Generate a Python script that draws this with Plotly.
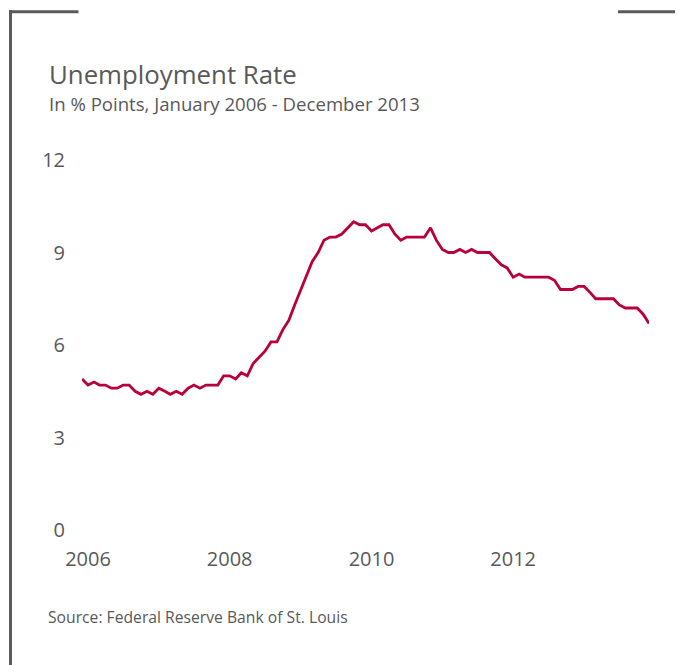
import pandas as pd
import plotly.graph_objects as go

# ---- data ----
start_month = "2005-12-01"
rate = [4.9,
        4.7, 4.8, 4.7, 4.7, 4.6, 4.6, 4.7, 4.7, 4.5, 4.4, 4.5, 4.4,
        4.6, 4.5, 4.4, 4.5, 4.4, 4.6, 4.7, 4.6, 4.7, 4.7, 4.7, 5.0,
        5.0, 4.9, 5.1, 5.0, 5.4, 5.6, 5.8, 6.1, 6.1, 6.5, 6.8, 7.3,
        7.8, 8.3, 8.7, 9.0, 9.4, 9.5, 9.5, 9.6, 9.8, 10.0, 9.9, 9.9,
        9.7, 9.8, 9.9, 9.9, 9.6, 9.4, 9.5, 9.5, 9.5, 9.5, 9.8, 9.4,
        9.1, 9.0, 9.0, 9.1, 9.0, 9.1, 9.0, 9.0, 9.0, 8.8, 8.6, 8.5,
        8.2, 8.3, 8.2, 8.2, 8.2, 8.2, 8.2, 8.1, 7.8, 7.8, 7.8, 7.9,
        7.9, 7.7, 7.5, 7.5, 7.5, 7.5, 7.3, 7.2, 7.2, 7.2, 7.0, 6.7]
months = pd.date_range(start_month, periods=len(rate), freq="MS")

x_tick_vals = ["2006-01-01", "2008-01-01", "2010-01-01", "2012-01-01"]
x_tick_text = ["2006", "2008", "2010", "2012"]
y_tick_vals = [0, 3, 6, 9, 12]

title = "Unemployment Rate"
subtitle = "In % Points, January 2006 - December 2013"
source = "Source: Federal Reserve Bank of St. Louis"

# ---- layout geometry (page pixels; page body has an 8px margin) ----
OFF = 8
W, H = 683 - OFF, 665 - OFF
L, R, T, B = 82, 649, 160, 530          # plot area in page pixels
pw, ph = R - L, B - T


def px(x):
    return (x - L) / pw


def py(y):
    return (B - y) / ph


FONT = "Open Sans, Noto Sans, sans-serif"
TXT = "#595959"
FRAME = "#5a5a5a"

fig = go.Figure()
fig.add_trace(go.Scatter(
    x=months, y=rate, mode="lines",
    line=dict(color="#B8003A", width=2.8),
    hoverinfo="x+y",
))

fig.update_layout(
    width=W, height=H,
    margin=dict(l=L - OFF, r=683 - R, t=T - OFF, b=665 - B),
    paper_bgcolor="white", plot_bgcolor="white",
    showlegend=False,
    font=dict(family=FONT, color=TXT),
    xaxis=dict(
        range=[months[0], months[-1]],
        tickvals=x_tick_vals, ticktext=x_tick_text,
        showgrid=False, zeroline=False, showline=False, ticks="",
        tickfont=dict(size=20, color=TXT),
        ticklabelstandoff=15,
    ),
    yaxis=dict(
        range=[0, 12], tickvals=y_tick_vals,
        showgrid=False, zeroline=False, showline=False, ticks="",
        tickfont=dict(size=20, color=TXT),
        ticklabelstandoff=16,
    ),
    annotations=[
        dict(text=title, x=px(47), y=py(74), xref="paper", yref="paper",
             xanchor="left", yanchor="middle", showarrow=False,
             font=dict(size=25.8, color=TXT, family=FONT)),
        dict(text=subtitle, x=px(47), y=py(103), xref="paper", yref="paper",
             xanchor="left", yanchor="middle", showarrow=False,
             font=dict(size=18.6, color=TXT, family=FONT)),
        dict(text=source, x=px(46), y=py(617), xref="paper", yref="paper",
             xanchor="left", yanchor="middle", showarrow=False,
             font=dict(size=15.7, color=TXT, family=FONT)),
    ],
    shapes=[
        dict(type="line", xref="paper", yref="paper",
             x0=px(10.5), x1=px(10.5), y0=py(10), y1=py(680),
             line=dict(color=FRAME, width=3)),
        dict(type="line", xref="paper", yref="paper",
             x0=px(9), x1=px(78.5), y0=py(11.7), y1=py(11.7),
             line=dict(color=FRAME, width=3)),
        dict(type="line", xref="paper", yref="paper",
             x0=px(618), x1=px(690), y0=py(11.7), y1=py(11.7),
             line=dict(color=FRAME, width=3)),
    ],
)

fig.write_html("out.html")
